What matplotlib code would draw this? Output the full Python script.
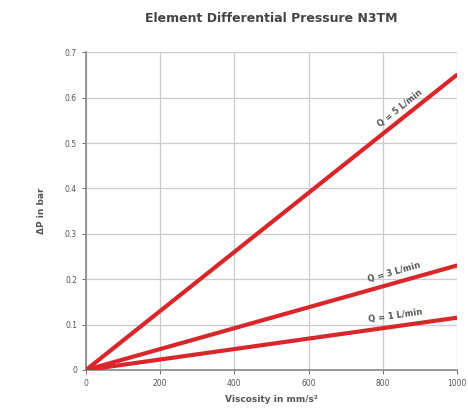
import numpy as np
import matplotlib
matplotlib.use("Agg")
import matplotlib.pyplot as plt

viscosity = [0, 1000]
dp_q5 = [0, 0.65]
dp_q3 = [0, 0.23]
dp_q1 = [0, 0.115]
labels = ["Q = 5 L/min", "Q = 3 L/min", "Q = 1 L/min"]
label_x = [855, 835, 835]

xticks = [0, 200, 400, 600, 800, 1000]
yticks = [0, 0.1, 0.2, 0.3, 0.4, 0.5, 0.6, 0.7]
ytick_labels = ["0", "0.1", "0.2", "0.3", "0.4", "0.5", "0.6", "0.7"]

fig = plt.figure(figsize=(4.68, 4.18), dpi=100)
ax = fig.add_axes([0.184, 0.115, 0.792, 0.76])

red = "#d8262a"
for ys in [dp_q5, dp_q3, dp_q1]:
    ax.plot(viscosity, ys, color=red, lw=3, solid_capstyle="round", zorder=3)

for ys, lab, lx in zip([dp_q5, dp_q3, dp_q1], labels, label_x):
    slope = ys[1] / viscosity[1]
    ang = np.degrees(np.arctan(slope))
    ax.text(lx, slope * lx + 0.014, lab, rotation=ang, transform_rotates_text=True,
            rotation_mode="anchor", ha="center", va="bottom",
            fontsize=6, fontweight="bold", color="#555555")

ax.set_xlim(0, 1000)
ax.set_ylim(0, 0.7)
ax.set_xticks(xticks)
ax.set_yticks(yticks)
ax.set_yticklabels(ytick_labels)
ax.grid(True, color="#cccccc", lw=0.9)
ax.set_axisbelow(True)
for s in ["top", "right"]:
    ax.spines[s].set_visible(False)
for s in ["left", "bottom"]:
    ax.spines[s].set_color("#888888")
    ax.spines[s].set_linewidth(1.2)
ax.tick_params(labelsize=5.5, colors="#555555", length=3, width=0.6)

ax.set_xlabel("Viscosity in mm/s²", fontsize=6.5, fontweight="bold", color="#555555", labelpad=5)
ax.set_ylabel("ΔP in bar", fontsize=6.5, fontweight="bold", color="#555555", labelpad=14)
fig.text(0.58, 0.955, "Element Differential Pressure N3TM", ha="center", va="center",
         fontsize=9, fontweight="bold", color="#444444")

fig.savefig("out.png", dpi=100)
